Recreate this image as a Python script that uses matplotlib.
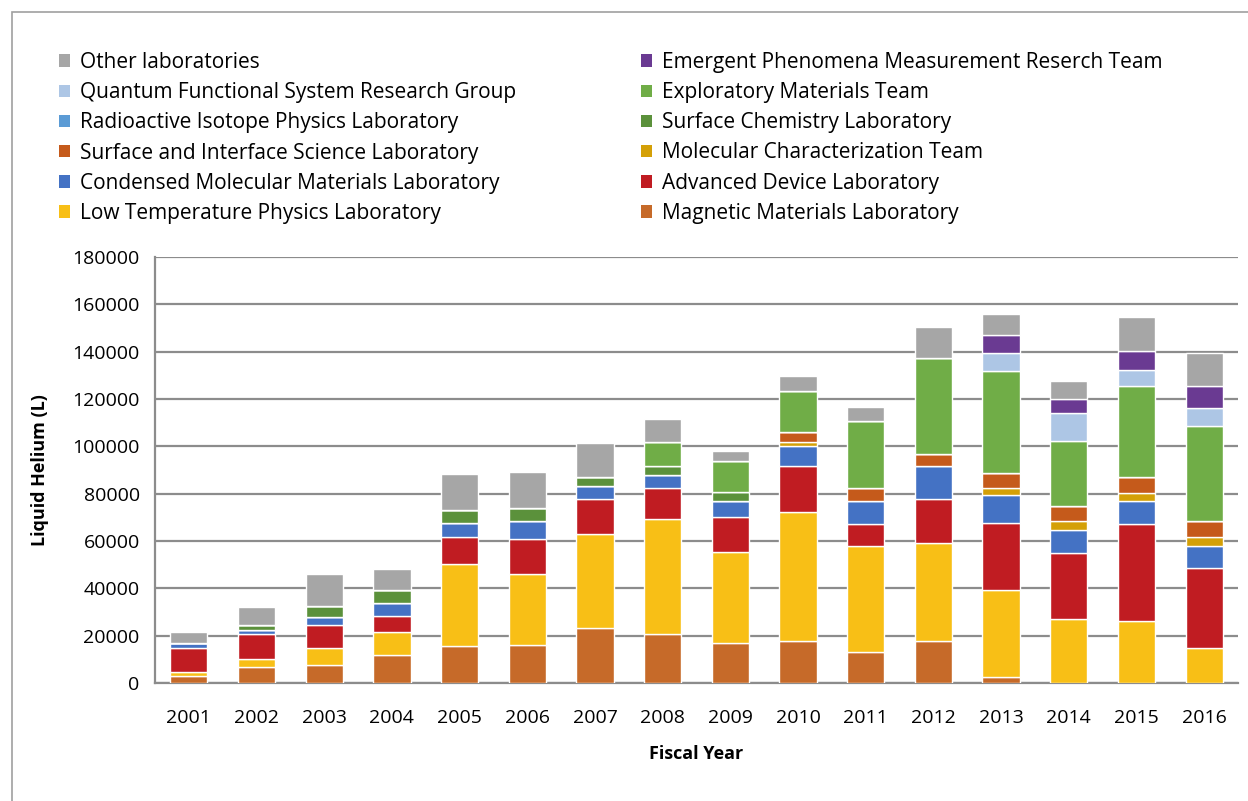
import matplotlib

matplotlib.use("Agg")

import matplotlib.pyplot as plt
import numpy as np
from matplotlib.patches import Patch, Rectangle

years = ["2001", "2002", "2003", "2004", "2005", "2006", "2007", "2008",
         "2009", "2010", "2011", "2012", "2013", "2014", "2015", "2016"]

# stacked bottom -> top
magnetic = [2800, 6900, 7600, 11700, 15500, 16200, 23400, 20800,
            17000, 17900, 13200, 17900, 2700, 0, 0, 0]
low_temp = [2000, 3200, 7200, 10000, 34600, 30000, 39700, 48500,
            38500, 54500, 44700, 41400, 36700, 27200, 26300, 14900]
advanced = [10000, 10700, 9800, 6700, 11600, 14800, 14800, 13100,
            14600, 19300, 9100, 18600, 28300, 27600, 40700, 33800]
condensed = [2200, 1600, 3300, 5500, 6000, 7600, 5300, 5500,
             6900, 8400, 10000, 14000, 11700, 10000, 10000, 9200]
mol_char = [0, 0, 0, 0, 0, 0, 0, 0,
            0, 1600, 0, 0, 3000, 3800, 3100, 3900]
surf_interface = [0, 0, 0, 0, 0, 0, 0, 0,
                  0, 4500, 5400, 5000, 6300, 6300, 6900, 6800]
surf_chem = [0, 2200, 4500, 5400, 5500, 5500, 3800, 3800,
             3800, 0, 0, 0, 0, 0, 0, 0]
radioactive = [0] * 16
exploratory = [0, 0, 0, 0, 0, 0, 0, 10000,
               13100, 17000, 28500, 40300, 43000, 27500, 38500, 40100]
quantum = [0, 0, 0, 0, 0, 0, 0, 0,
           0, 0, 0, 0, 7700, 11700, 6900, 7600]
emergent = [0, 0, 0, 0, 0, 0, 0, 0,
            0, 0, 0, 0, 7800, 6000, 7700, 9300]
other = [4500, 7500, 13500, 9000, 15100, 14900, 14300, 9700,
         4200, 6600, 5700, 13400, 8700, 7400, 14400, 13700]

series = [
    ("Magnetic Materials Laboratory", magnetic, "#C66A29"),
    ("Low Temperature Physics Laboratory", low_temp, "#F8BF16"),
    ("Advanced Device Laboratory", advanced, "#C01C22"),
    ("Condensed Molecular Materials Laboratory", condensed, "#4472C4"),
    ("Molecular Characterization Team", mol_char, "#D4A007"),
    ("Surface and Interface Science Laboratory", surf_interface, "#C55A1B"),
    ("Surface Chemistry Laboratory", surf_chem, "#5B913B"),
    ("Radioactive Isotope Physics Laboratory", radioactive, "#5B9BD5"),
    ("Exploratory Materials Team", exploratory, "#70AD47"),
    ("Quantum Functional System Research Group", quantum, "#ADC6E5"),
    ("Emergent Phenomena Measurement Reserch Team", emergent, "#6A3A92"),
    ("Other laboratories", other, "#A6A6A6"),
]

plt.rcParams["font.family"] = ["Open Sans", "DejaVu Sans"]

fig = plt.figure(figsize=(12.48, 8.01), dpi=100)
W, H = 1248, 801
ax = fig.add_axes([155 / W, 1 - 683 / H, (1238 - 155) / W, (683 - 257) / H])

x = np.arange(len(years))
bottom = np.zeros(len(years))
handles = {}
for name, vals, color in series:
    vals = np.array(vals, dtype=float)
    ax.bar(x, vals, 0.55, bottom=bottom, color=color, edgecolor="white",
           linewidth=1.0, zorder=3)
    bottom += vals
    handles[name] = Patch(facecolor=color, edgecolor="none", label=name)

ax.set_xlim(-0.5, len(years) - 0.5)
ax.set_ylim(0, 180000)
ax.set_yticks(np.arange(0, 180001, 20000))
ax.set_xticks(x)
ax.set_xticklabels(years)
ax.grid(axis="y", color="#8C8C8C", linewidth=1.6, zorder=0)
for s in ["top", "right"]:
    ax.spines[s].set_visible(False)
for s in ["left", "bottom"]:
    ax.spines[s].set_color("#8C8C8C")
    ax.spines[s].set_linewidth(1.6)
ax.tick_params(length=0, labelsize=14, colors="#000000")
ax.tick_params(axis="x", pad=18.5)
ax.tick_params(axis="y", pad=11)
ax.set_ylabel("Liquid Helium (L)", fontsize=13, fontweight="bold", labelpad=17)
ax.set_xlabel("Fiscal Year", fontsize=13, fontweight="bold", labelpad=13.5)

col1 = [
    "Other laboratories",
    "Quantum Functional System Research Group",
    "Radioactive Isotope Physics Laboratory",
    "Surface and Interface Science Laboratory",
    "Condensed Molecular Materials Laboratory",
    "Low Temperature Physics Laboratory",
]
col2 = [
    "Emergent Phenomena Measurement Reserch Team",
    "Exploratory Materials Team",
    "Surface Chemistry Laboratory",
    "Molecular Characterization Team",
    "Advanced Device Laboratory",
    "Magnetic Materials Laboratory",
]
leg_kw = dict(frameon=False, loc="upper left", fontsize=15, handlelength=0.55,
              handleheight=0.55, handletextpad=0.45, labelspacing=0.44,
              borderpad=0, borderaxespad=0)
fig.legend([handles[n] for n in col1], col1,
           bbox_to_anchor=(59 / W, 1 - 52 / H), **leg_kw)
fig.legend([handles[n] for n in col2], col2,
           bbox_to_anchor=(641 / W, 1 - 52 / H), **leg_kw)

fig.patches.append(Rectangle((12 / W, -0.05), 1.2, 1 - 12 / H + 0.05,
                             transform=fig.transFigure, fill=False,
                             edgecolor="#A0A0A0", linewidth=1.2))

fig.savefig("out.png", dpi=100)
